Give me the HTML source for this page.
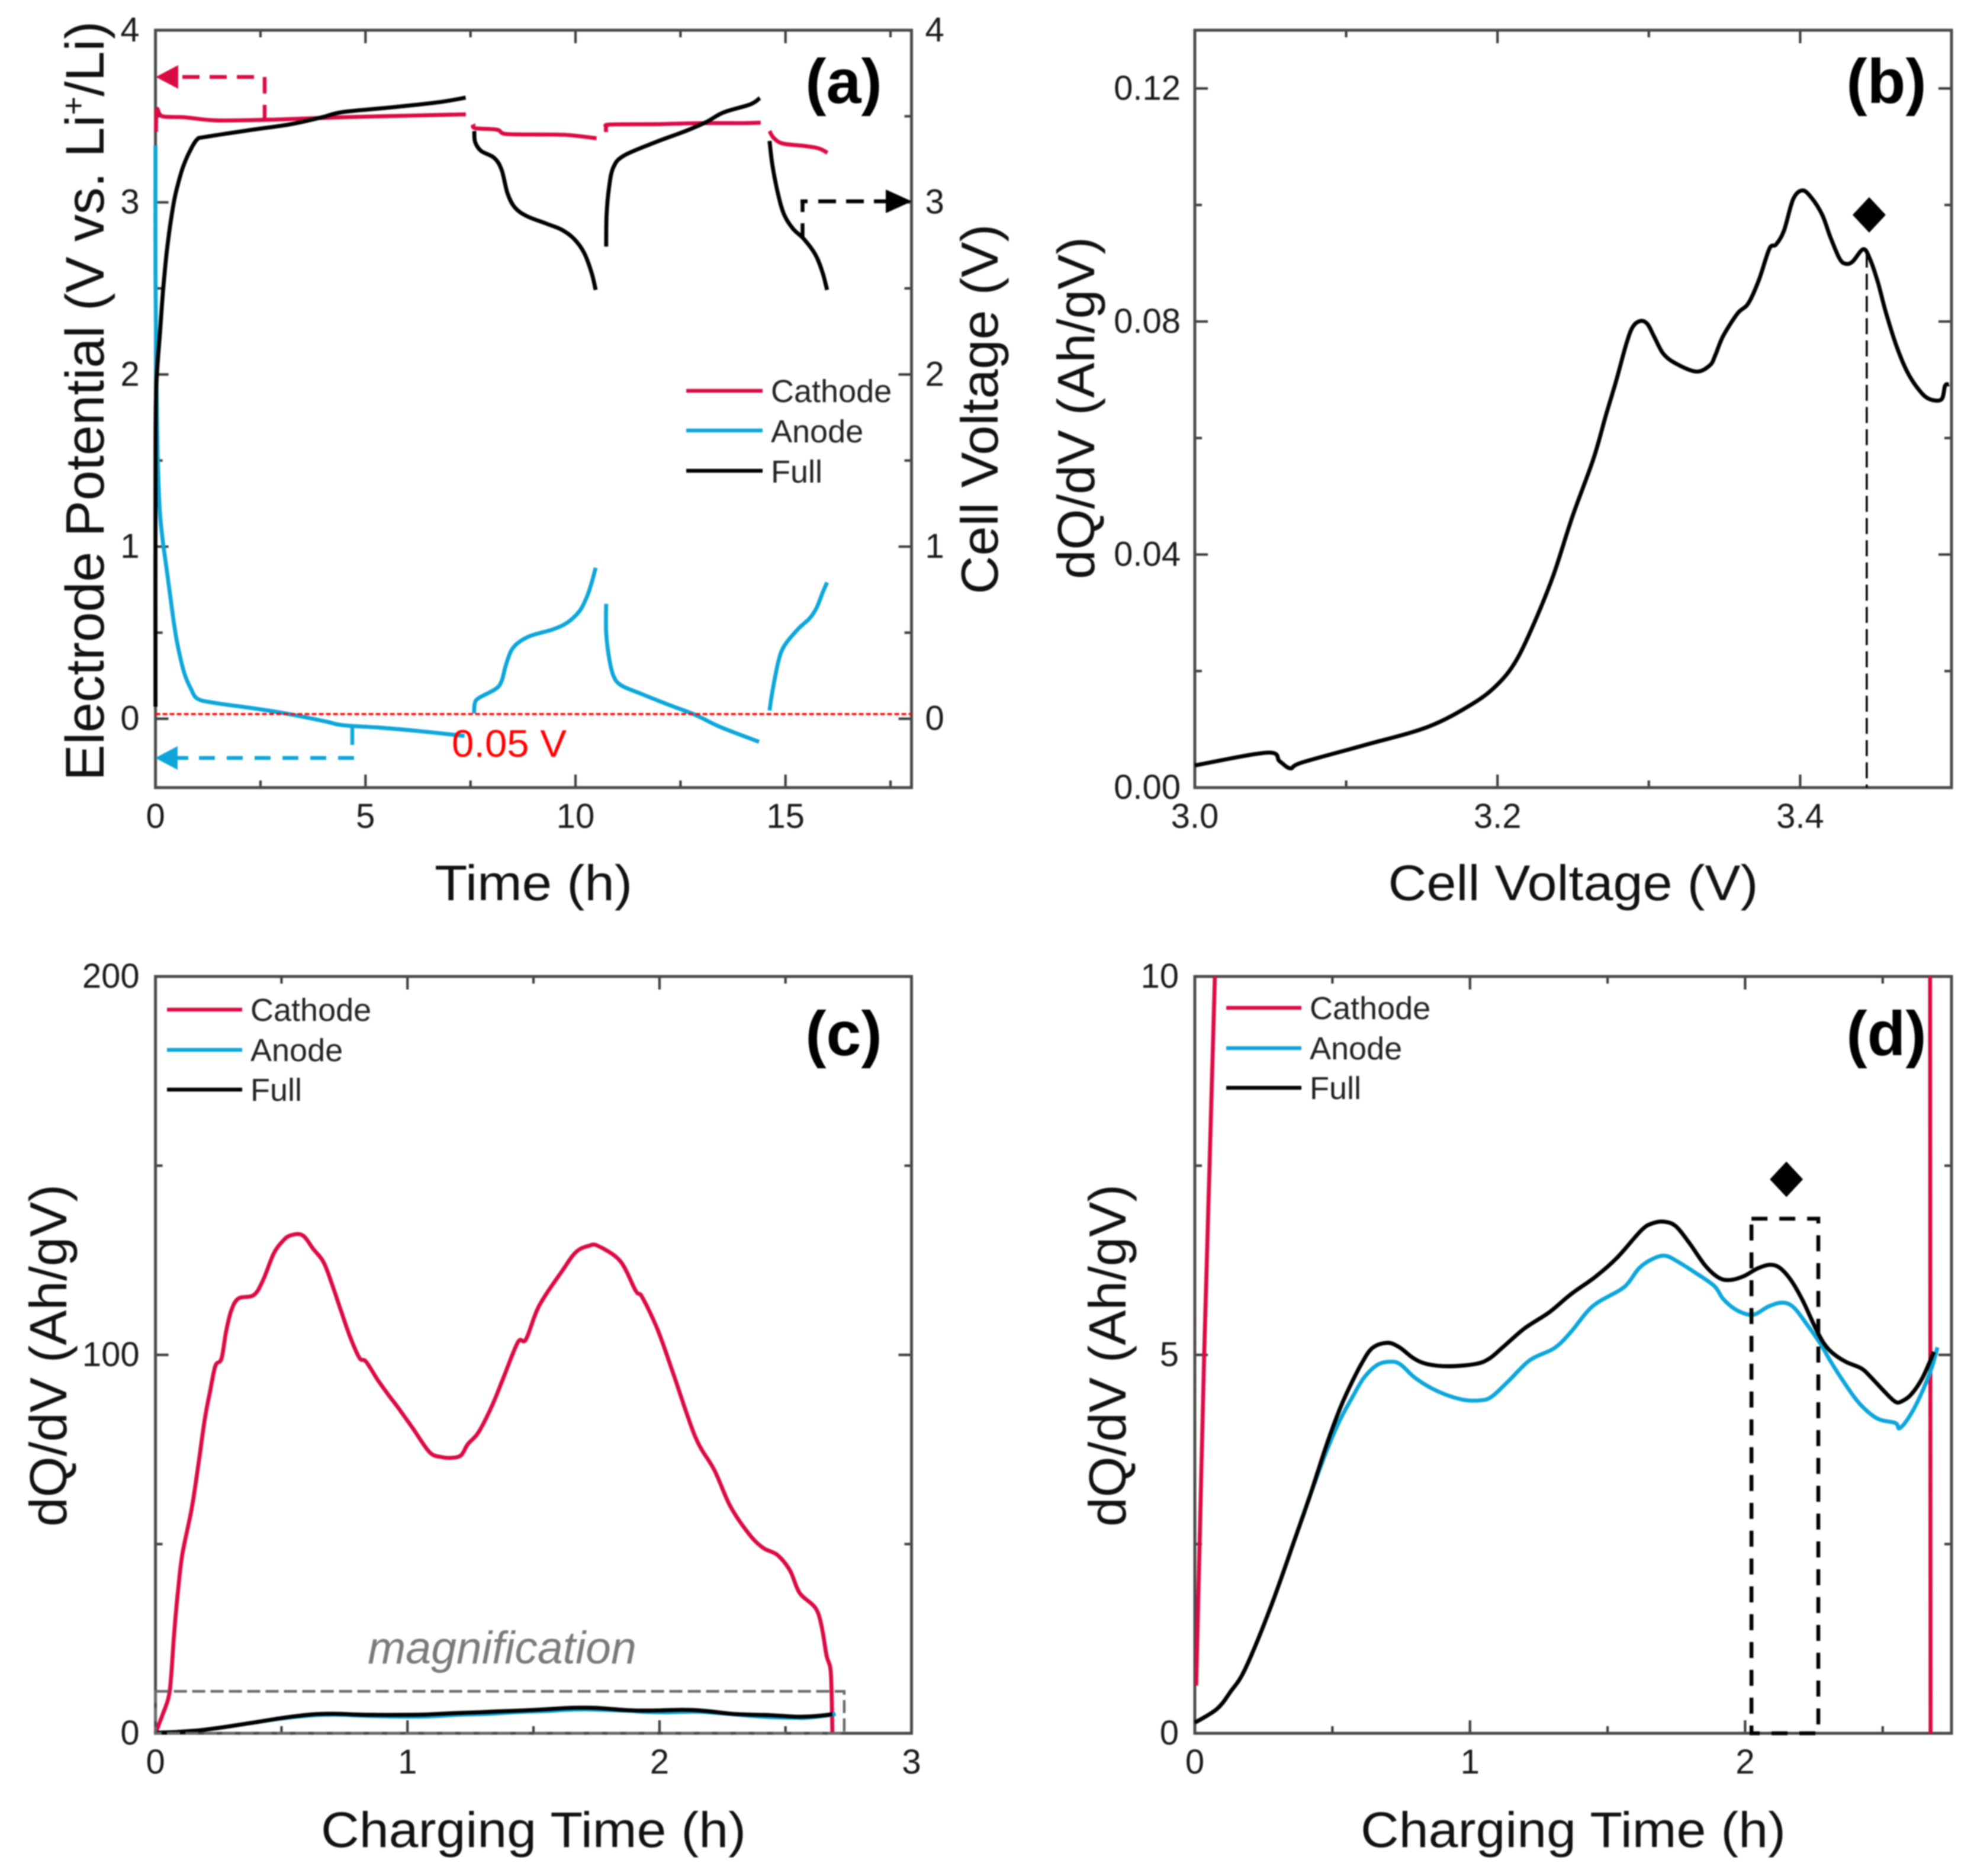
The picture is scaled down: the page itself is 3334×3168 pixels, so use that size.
<!DOCTYPE html>
<html lang="en">
<head>
<meta charset="utf-8">
<title>Electrode potential and dQ/dV charts</title>
<style>
html,body{margin:0;padding:0;background:#fff;}
svg{display:block;filter:blur(1.1px);}
text{font-family:"Liberation Sans",sans-serif;fill:#1a1a1a;}
.title{font-size:84px;fill:#111;}
.ytitle{font-size:88px;fill:#111;}
.leg{font-size:54px;fill:#222;}
.tag{font-size:106px;font-weight:bold;fill:#000;}
</style>
</head>
<body>
<svg id="figure" xmlns="http://www.w3.org/2000/svg" width="3334" height="3168" viewBox="0 0 3334 3168">
  <rect x="0" y="0" width="3334" height="3168" fill="#fff"/>
  <defs>
    <clipPath id="clip-d"><rect x="2018" y="1649" width="1278" height="1278"/></clipPath>
  </defs>
  <g id="panel-a"></g>
  <g id="panel-b"></g>
  <g id="panel-c"></g>
  <g id="panel-d" ></g>

  <!-- panel a text -->
  <text class="title" x="901" y="1520" text-anchor="middle" textLength="334" lengthAdjust="spacingAndGlyphs">Time (h)</text>
  <text class="ytitle" style="font-size:91.5px" transform="translate(175,677) rotate(-90)" text-anchor="middle">Electrode Potential (V vs. Li<tspan font-size="54" dy="-33">+</tspan><tspan dy="33">/Li)</tspan></text>
  <text class="ytitle" transform="translate(1685,691) rotate(-90)" text-anchor="middle" textLength="625" lengthAdjust="spacingAndGlyphs">Cell Voltage (V)</text>
  <text class="tag" x="1425" y="174" text-anchor="middle">(a)</text>
  <text x="763" y="1278" font-size="65" textLength="194" lengthAdjust="spacingAndGlyphs" style="fill:#ff0000">0.05 V</text>
  <g>
    <line x1="1159" y1="660" x2="1288" y2="660" stroke="#d90b45" stroke-width="6.5"/>
    <line x1="1159" y1="727" x2="1288" y2="727" stroke="#0ea6d9" stroke-width="6.5"/>
    <line x1="1159" y1="795" x2="1288" y2="795" stroke="#000" stroke-width="6.5"/>
    <text class="leg" x="1302" y="679">Cathode</text>
    <text class="leg" x="1302" y="747">Anode</text>
    <text class="leg" x="1302" y="815">Full</text>
  </g>
  <!-- panel a guide arrows -->
  <g fill="none" stroke="#d90b45" stroke-width="6.5">
    <line x1="308" y1="130" x2="430" y2="130" stroke-dasharray="29 17"/>
    <line x1="447" y1="130" x2="447" y2="204" stroke-dasharray="28 19"/>
    <polygon points="263,130 301,110 301,150" fill="#d90b45" stroke="none"/>
  </g>
  <g fill="none" stroke="#0ea6d9" stroke-width="6.5">
    <line x1="300" y1="1280" x2="318" y2="1280"/>
    <line x1="336" y1="1280" x2="598" y2="1280" stroke-dasharray="27 20"/>
    <line x1="595" y1="1228" x2="595" y2="1258"/>
    <polygon points="262,1280 300,1260 300,1300" fill="#0ea6d9" stroke="none"/>
  </g>
  <g fill="none" stroke="#000" stroke-width="6.5">
    <line x1="1352" y1="340" x2="1364" y2="340"/>
    <line x1="1382" y1="340" x2="1500" y2="340" stroke-dasharray="30 17"/>
    <line x1="1355.5" y1="337" x2="1355.5" y2="358"/>
    <line x1="1355.5" y1="377" x2="1355.5" y2="400"/>
    <polygon points="1540,340 1496,320 1496,360" fill="#000" stroke="none"/>
  </g>

  <!-- panel b text -->
  <text class="title" x="2657" y="1520" text-anchor="middle" textLength="625" lengthAdjust="spacingAndGlyphs">Cell Voltage (V)</text>
  <text class="ytitle" transform="translate(1848,689) rotate(-90)" text-anchor="middle" textLength="578" lengthAdjust="spacingAndGlyphs">dQ/dV (Ah/gV)</text>
  <text class="tag" x="3186" y="174" text-anchor="middle">(b)</text>

  <!-- panel c text -->
  <text class="title" x="901" y="3119" text-anchor="middle" textLength="718" lengthAdjust="spacingAndGlyphs">Charging Time (h)</text>
  <text class="ytitle" transform="translate(112,2289) rotate(-90)" text-anchor="middle" textLength="578" lengthAdjust="spacingAndGlyphs">dQ/dV (Ah/gV)</text>
  <text class="tag" x="1425" y="1782" text-anchor="middle">(c)</text>
  <text x="848" y="2809" text-anchor="middle" font-size="77" font-style="italic" style="fill:#7a7a7a">magnification</text>
  <g>
    <line x1="282" y1="1705" x2="409" y2="1705" stroke="#d90b45" stroke-width="6.5"/>
    <line x1="282" y1="1773" x2="409" y2="1773" stroke="#0ea6d9" stroke-width="6.5"/>
    <line x1="282" y1="1840" x2="409" y2="1840" stroke="#000" stroke-width="6.5"/>
    <text class="leg" x="423" y="1724">Cathode</text>
    <text class="leg" x="423" y="1792">Anode</text>
    <text class="leg" x="423" y="1859">Full</text>
  </g>

  <!-- panel d text -->
  <text class="title" x="2657" y="3119" text-anchor="middle" textLength="718" lengthAdjust="spacingAndGlyphs">Charging Time (h)</text>
  <text class="ytitle" transform="translate(1901,2289) rotate(-90)" text-anchor="middle" textLength="578" lengthAdjust="spacingAndGlyphs">dQ/dV (Ah/gV)</text>
  <text class="tag" x="3186" y="1782" text-anchor="middle">(d)</text>
  <g id="d-legend">
    <line x1="2071" y1="1702" x2="2198" y2="1702" stroke="#d90b45" stroke-width="6.5"/>
    <line x1="2071" y1="1770" x2="2198" y2="1770" stroke="#0ea6d9" stroke-width="6.5"/>
    <line x1="2071" y1="1837" x2="2198" y2="1837" stroke="#000" stroke-width="6.5"/>
    <text class="leg" x="2212" y="1721">Cathode</text>
    <text class="leg" x="2212" y="1789">Anode</text>
    <text class="leg" x="2212" y="1856">Full</text>
  </g>
</svg>

<script>
/* ---------- Panel (a) series ---------- */
const aCathode1Time = [0.01,0.035,0.16,0.69,1.45,2.71,3.72,4.72,7.39];
const aCathode1Volt = [3.41,3.54,3.50,3.494,3.476,3.48,3.488,3.496,3.511];
const aCathode2Time = [7.57,7.61,8.13,8.34,9.11,9.81,10.5];
const aCathode2Volt = [3.454,3.431,3.422,3.397,3.394,3.391,3.372];
const aCathode3Time = [10.73,10.73,10.83,11.92,12.97,14.02,14.41];
const aCathode3Volt = [3.408,3.437,3.452,3.454,3.46,3.46,3.463];
const aCathode4Time = [14.62,14.72,14.93,15.43,15.78,16.0];
const aCathode4Volt = [3.414,3.374,3.342,3.328,3.314,3.288];

const aAnode1Time = [0,0,0.02,0.05,0.1,0.17,0.248,0.342,0.437,0.531,0.688,0.846,1.0,1.38,2.2,2.83,3.46,4.09,4.46,5.35,6.29,7.36];
const aAnode1Volt = [3.33,2.6,2.0,1.55,1.22,1.04,0.9,0.73,0.56,0.423,0.264,0.173,0.116,0.093,0.065,0.042,0.014,-0.018,-0.0375,-0.052,-0.072,-0.1];
const aAnode2Time = [7.585,7.606,7.71,8.10,8.24,8.34,8.48,8.69,8.97,9.46,9.81,10.1,10.27,10.38,10.48];
const aAnode2Volt = [0.031,0.093,0.122,0.173,0.218,0.309,0.4,0.451,0.485,0.519,0.559,0.627,0.707,0.786,0.877];
const aAnode3Time = [10.73,10.73,10.8,10.9,11.08,11.57,12.27,12.83,13.46,14.37];
const aAnode3Volt = [0.667,0.502,0.355,0.252,0.195,0.144,0.076,0.025,-0.049,-0.134];
const aAnode4Time = [14.62,14.69,14.83,14.97,15.29,15.57,15.74,15.88,15.99];
const aAnode4Volt = [0.048,0.161,0.332,0.423,0.519,0.582,0.644,0.73,0.792];

const aFull1Time = [0,0,0.015,0.11,0.185,0.286,0.437,0.563,0.663,0.814,0.99,1.19,2.2,3.2,3.96,4.47,5.72,6.73,7.385];
const aFull1Volt = [0.07,1.3,1.9,2.25,2.5,2.75,3.0,3.13,3.21,3.295,3.365,3.38,3.418,3.453,3.494,3.525,3.554,3.581,3.608];
const aFull2Time = [7.59,7.61,7.75,8.06,8.24,8.38,8.55,8.83,9.32,9.67,9.96,10.2,10.38,10.48];
const aFull2Volt = [3.414,3.351,3.299,3.259,3.19,3.053,2.972,2.921,2.875,2.841,2.789,2.709,2.594,2.491];
const aFull3Time = [10.73,10.74,10.8,10.9,11.15,11.92,12.62,13.11,13.53,14.16,14.39];
const aFull3Volt = [2.743,2.927,3.087,3.202,3.271,3.351,3.414,3.466,3.523,3.569,3.606];
const aFull4Time = [14.62,14.69,14.83,14.97,15.18,15.43,15.71,15.88,15.99];
const aFull4Volt = [3.357,3.213,3.041,2.927,2.846,2.789,2.697,2.594,2.491];

const aCutoffLevel = [0.027];

const aXMajor = [0,5,10,15];
const aXMajorLabels = ['0','5','10','15'];
const aXMinor = [2.5,7.5,12.5,17.5];
const aYMajor = [0,1,2,3,4];
const aYMajorLabels = ['0','1','2','3','4'];
const aYMinor = [0.5,1.5,2.5,3.5];

/* ---------- Panel (b) series ---------- */
const bVoltage = [3.0,3.0478,3.0561,3.0632,3.0707,3.1123,3.1538,3.183,3.1996,3.2121,3.2245,3.237,3.2495,3.2635,3.2714,3.2784,3.2853,3.2897,3.295,3.2993,3.3037,3.3098,3.3185,3.3316,3.3404,3.3439,3.3491,3.3587,3.3657,3.3727,3.3797,3.384,3.3893,3.3954,3.4015,3.4076,3.4146,3.4198,3.426,3.4303,3.4347,3.4417,3.446,3.4513,3.4565,3.4635,3.4705,3.4775,3.4845,3.4932,3.4958,3.4984];
const bDqdv = [0.0038,0.006,0.0045,0.0033,0.0043,0.0073,0.0104,0.0143,0.0176,0.0217,0.0284,0.0365,0.0465,0.0565,0.0637,0.0698,0.0763,0.0792,0.0801,0.0795,0.0773,0.0744,0.0727,0.0714,0.0725,0.0742,0.0775,0.0814,0.0831,0.0871,0.0925,0.0932,0.0956,0.101,0.1025,0.1012,0.0983,0.0946,0.0908,0.0899,0.0903,0.0924,0.0908,0.0868,0.0817,0.0759,0.0715,0.0686,0.0668,0.0666,0.069,0.0692];
const bPeakVoltage = [3.444];
const bPeakValue = [0.092];
const bMarkerVoltage = [3.4456];
const bMarkerValue = [0.0983];

const bXMajor = [3.0,3.2,3.4];
const bXMajorLabels = ['3.0','3.2','3.4'];
const bXMinor = [3.1,3.3];
const bYMajor = [0,0.04,0.08,0.12];
const bYMajorLabels = ['0.00','0.04','0.08','0.12'];
const bYMinor = [0.02,0.06,0.10];

/* ---------- Panels (c) and (d) series ---------- */
const chargeCathodeTime = [0,0.027,0.052,0.062,0.075,0.09,0.107,0.1435,0.1697,0.1959,0.2169,0.2378,0.262,0.2798,0.3008,0.3291,0.3899,0.4266,0.4686,0.5053,0.5367,0.5839,0.6259,0.6678,0.7045,0.736,0.7727,0.8094,0.8356,0.8828,0.9248,0.9667,1.0191,1.0873,1.1345,1.1765,1.2132,1.2394,1.2814,1.3338,1.381,1.4386,1.4701,1.5226,1.6149,1.669,1.7187,1.756,1.844,1.906,1.931,1.993,2.056,2.143,2.218,2.281,2.356,2.411,2.468,2.518,2.556,2.618,2.643,2.663,2.68,2.686];
const chargeCathodeValue = [0,4.7,9.5,15,27,38,47.4,59.3,70.7,83.1,90.4,97.1,99,106,111.7,114.9,115.8,119.7,126.7,130.1,131.6,131.6,128,124.4,117.9,111.7,104.7,99.2,98.2,93.3,89.4,85.7,80.8,74.3,73,72.8,73.5,76.4,79.5,86.3,94,103.4,104.1,113,122.3,127.2,128.8,128.8,124.8,116.9,115.3,106.6,94.8,78.2,69.5,60,52.6,49,47.1,43,37.1,33.2,28.4,20.5,15.8,0];

const chargeAnodeTime = [0,0.08,0.13,0.183,0.274,0.363,0.4176,0.4769,0.5263,0.5757,0.6152,0.6646,0.714,0.7486,0.8029,0.882,0.971,1.04,1.0797,1.139,1.218,1.3069,1.3662,1.445,1.542,1.575,1.616,1.665,1.71,1.756,1.813,1.888,1.92,1.97,2.028,2.085,2.135,2.176,2.225,2.275,2.308,2.357,2.415,2.48,2.546,2.561,2.596,2.637,2.678,2.699];
const chargeAnodeValue = [0.14,0.32,0.55,0.85,1.65,2.56,3.13,3.71,4.13,4.46,4.7,4.87,4.91,4.87,4.69,4.52,4.41,4.4,4.45,4.65,4.93,5.09,5.3,5.64,5.85,5.95,6.15,6.27,6.31,6.23,6.1,5.91,5.74,5.59,5.53,5.64,5.69,5.63,5.4,5.14,4.93,4.65,4.36,4.16,4.1,4.03,4.18,4.46,4.83,5.1];

const chargeFullTime = [0,0.08,0.13,0.183,0.274,0.363,0.4176,0.4769,0.5263,0.5658,0.6053,0.6449,0.6992,0.7437,0.7931,0.8425,0.9215,1.0204,1.0698,1.1192,1.1982,1.2871,1.3662,1.4551,1.5335,1.624,1.665,1.706,1.748,1.797,1.855,1.904,1.945,1.995,2.044,2.089,2.126,2.168,2.209,2.25,2.283,2.316,2.365,2.423,2.456,2.505,2.546,2.571,2.604,2.645,2.686];
const chargeFullValue = [0.14,0.32,0.55,0.85,1.65,2.56,3.13,3.79,4.28,4.6,4.88,5.09,5.16,5.1,4.96,4.88,4.85,4.88,4.95,5.1,5.35,5.56,5.8,6.03,6.28,6.65,6.74,6.76,6.7,6.48,6.18,6.02,5.99,6.04,6.14,6.19,6.15,5.98,5.72,5.4,5.17,5.03,4.91,4.82,4.71,4.52,4.38,4.39,4.48,4.7,5.04];

const dCathodeRiseTime = [0.005,0.034,0.073];
const dCathodeRiseValue = [0.63,5,10];
const dCathodeFallTime = [2.672,2.674];
const dCathodeFallValue = [10,0];

const cZoomBoxTime = [0,2.733];
const cZoomBoxValue = [0,11.1];
const dBoxTime = [2.023,2.266];
const dBoxValue = [0,6.8];
const dMarkerTime = [2.15];
const dMarkerValue = [7.32];

const cXMajor = [0,1,2,3];
const cXMajorLabels = ['0','1','2','3'];
const cXMinor = [0.5,1.5,2.5];
const cYMajor = [0,100,200];
const cYMajorLabels = ['0','100','200'];
const cYMinor = [50,150];

const dXMajor = [0,1,2];
const dXMajorLabels = ['0','1','2'];
const dXMinor = [0.5,1.5,2.5];
const dYMajor = [0,5,10];
const dYMajorLabels = ['0','5','10'];
const dYMinor = [2.5,7.5];

/* ---------- Drawing helpers ---------- */
const SVGNS = 'http://www.w3.org/2000/svg';
const CRIMSON = '#d90b45';
const CYAN = '#0ea6d9';
const BLACK = '#000000';

function linear(d0, d1, r0, r1) {
  return function (v) { return r0 + (v - d0) * (r1 - r0) / (d1 - d0); };
}

function smoothPath(pts) {
  let d = 'M' + pts[0][0].toFixed(1) + ' ' + pts[0][1].toFixed(1);
  for (let i = 0; i < pts.length - 1; i++) {
    const p0 = pts[Math.max(i - 1, 0)], p1 = pts[i], p2 = pts[i + 1], p3 = pts[Math.min(i + 2, pts.length - 1)];
    const k = 1 / 6;
    const c1x = p1[0] + (p2[0] - p0[0]) * k, c1y = p1[1] + (p2[1] - p0[1]) * k;
    const c2x = p2[0] - (p3[0] - p1[0]) * k, c2y = p2[1] - (p3[1] - p1[1]) * k;
    d += 'C' + c1x.toFixed(1) + ' ' + c1y.toFixed(1) + ' ' + c2x.toFixed(1) + ' ' + c2y.toFixed(1) + ' ' + p2[0].toFixed(1) + ' ' + p2[1].toFixed(1);
  }
  return d;
}

function straightPath(pts) {
  return pts.map(function (p, i) { return (i ? 'L' : 'M') + p[0].toFixed(1) + ' ' + p[1].toFixed(1); }).join('');
}

function drawSeries(g, xs, ys, sx, sy, color, name, smooth, clip) {
  const pts = xs.map(function (x, i) { return [sx(x), sy(ys[i])]; });
  const el = document.createElementNS(SVGNS, 'path');
  
  
  el.setAttribute('d', smooth ? smoothPath(pts) : straightPath(pts));
  el.setAttribute('fill', 'none');
  el.setAttribute('stroke', color);
  el.setAttribute('stroke-width', '6.8');
  el.setAttribute('stroke-linejoin', 'round');
  if (clip) el.setAttribute('clip-path', clip);
  g.appendChild(el);
}

function drawTick(g, x1, y1, x2, y2, name) {
  const el = document.createElementNS(SVGNS, 'line');
  
  
  el.setAttribute('x1', x1);
  el.setAttribute('y1', y1);
  el.setAttribute('x2', x2);
  el.setAttribute('y2', y2);
  el.setAttribute('stroke', '#3d3d3d');
  el.setAttribute('stroke-width', '4.2');
  g.appendChild(el);
}

function drawLabel(g, x, y, str, anchor, name) {
  const el = document.createElementNS(SVGNS, 'text');
  
  
  el.setAttribute('x', x);
  el.setAttribute('y', y);
  el.setAttribute('text-anchor', anchor);
  el.setAttribute('font-size', '58');
  el.textContent = str;
  g.appendChild(el);
}

function drawAxes(g, box, sx, sy, cfg) {
  const MAJOR = 22, MINOR = 12;
  cfg.xMajor.forEach(function (v, i) {
    const x = sx(v);
    drawTick(g, x, box.y1, x, box.y1 - MAJOR, 'x-major-tick');
    drawTick(g, x, box.y0, x, box.y0 + MAJOR, 'x-major-tick-top');
    drawLabel(g, x, box.y1 + 68, cfg.xLabels[i], 'middle', 'x-tick-label');
  });
  cfg.xMinor.forEach(function (v) {
    const x = sx(v);
    drawTick(g, x, box.y1, x, box.y1 - MINOR, 'x-minor-tick');
    drawTick(g, x, box.y0, x, box.y0 + MINOR, 'x-minor-tick-top');
  });
  cfg.yMajor.forEach(function (v, i) {
    const y = sy(v);
    drawTick(g, box.x0, y, box.x0 + MAJOR, y, 'y-major-tick');
    drawTick(g, box.x1, y, box.x1 - MAJOR, y, 'y-major-tick-right');
    drawLabel(g, box.x0 - cfg.labelGap, y + 19, cfg.yLabels[i], 'end', 'y-tick-label');
    if (cfg.rightLabels) {
      drawLabel(g, box.x1 + 23, y + 19, cfg.yLabels[i], 'start', 'right-y-tick-label');
    }
  });
  cfg.yMinor.forEach(function (v) {
    const y = sy(v);
    drawTick(g, box.x0, y, box.x0 + MINOR, y, 'y-minor-tick');
    drawTick(g, box.x1, y, box.x1 - MINOR, y, 'y-minor-tick-right');
  });
  const frame = document.createElementNS(SVGNS, 'rect');
  
  
  frame.setAttribute('x', box.x0);
  frame.setAttribute('y', box.y0);
  frame.setAttribute('width', box.x1 - box.x0);
  frame.setAttribute('height', box.y1 - box.y0);
  frame.setAttribute('fill', 'none');
  frame.setAttribute('stroke', '#4a4a4a');
  frame.setAttribute('stroke-width', '5');
  g.appendChild(frame);
}

function drawDiamond(g, cx, cy, name) {
  const el = document.createElementNS(SVGNS, 'polygon');
  
  
  el.setAttribute('points', cx + ',' + (cy - 30) + ' ' + (cx + 28) + ',' + cy + ' ' + cx + ',' + (cy + 30) + ' ' + (cx - 28) + ',' + cy);
  el.setAttribute('fill', '#000');
  g.appendChild(el);
}

function drawDashedBox(g, x0, y0, x1, y1, color, width, dash, name) {
  const el = document.createElementNS(SVGNS, 'rect');
  
  
  el.setAttribute('x', x0);
  el.setAttribute('y', y1);
  el.setAttribute('width', x1 - x0);
  el.setAttribute('height', y0 - y1);
  el.setAttribute('fill', 'none');
  el.setAttribute('stroke', color);
  el.setAttribute('stroke-width', width);
  el.setAttribute('stroke-dasharray', dash);
  g.appendChild(el);
}

function drawGuideLine(g, x1, y1, x2, y2, color, width, dash, name) {
  const el = document.createElementNS(SVGNS, 'line');
  
  
  el.setAttribute('x1', x1);
  el.setAttribute('y1', y1);
  el.setAttribute('x2', x2);
  el.setAttribute('y2', y2);
  el.setAttribute('stroke', color);
  el.setAttribute('stroke-width', width);
  el.setAttribute('stroke-dasharray', dash);
  g.appendChild(el);
}

/* ---------- Panel (a) ---------- */
(function () {
  const g = document.getElementById('panel-a');
  const box = { x0: 262.6, x1: 1539.5, y0: 51, y1: 1330 };
  const sx = linear(0, 18, box.x0, box.x1);
  const sy = linear(-0.4, 4, box.y1, box.y0);
  drawAxes(g, box, sx, sy, { xMajor: aXMajor, xLabels: aXMajorLabels, xMinor: aXMinor, yMajor: aYMajor, yLabels: aYMajorLabels, yMinor: aYMinor, labelGap: 27, rightLabels: true });
  drawSeries(g, aCathode1Time, aCathode1Volt, sx, sy, CRIMSON, 'cathode-line-charge-1', true);
  drawSeries(g, aCathode2Time, aCathode2Volt, sx, sy, CRIMSON, 'cathode-line-discharge-1', true);
  drawSeries(g, aCathode3Time, aCathode3Volt, sx, sy, CRIMSON, 'cathode-line-charge-2', true);
  drawSeries(g, aCathode4Time, aCathode4Volt, sx, sy, CRIMSON, 'cathode-line-discharge-2', true);
  drawSeries(g, aAnode1Time, aAnode1Volt, sx, sy, CYAN, 'anode-line-charge-1', true);
  drawSeries(g, aAnode2Time, aAnode2Volt, sx, sy, CYAN, 'anode-line-discharge-1', true);
  drawSeries(g, aAnode3Time, aAnode3Volt, sx, sy, CYAN, 'anode-line-charge-2', true);
  drawSeries(g, aAnode4Time, aAnode4Volt, sx, sy, CYAN, 'anode-line-discharge-2', true);
  drawSeries(g, aFull1Time, aFull1Volt, sx, sy, BLACK, 'full-cell-line-charge-1', true);
  drawSeries(g, aFull2Time, aFull2Volt, sx, sy, BLACK, 'full-cell-line-discharge-1', true);
  drawSeries(g, aFull3Time, aFull3Volt, sx, sy, BLACK, 'full-cell-line-charge-2', true);
  drawSeries(g, aFull4Time, aFull4Volt, sx, sy, BLACK, 'full-cell-line-discharge-2', true);
  drawGuideLine(g, box.x0, sy(aCutoffLevel[0]), box.x1, sy(aCutoffLevel[0]), '#ff0000', 3.5, '8 4', 'cutoff-voltage-line');
})();

/* ---------- Panel (b) ---------- */
(function () {
  const g = document.getElementById('panel-b');
  const box = { x0: 2018, x1: 3296, y0: 51, y1: 1330 };
  const sx = linear(3.0, 3.5, box.x0, box.x1);
  const sy = linear(0, 0.13, box.y1, box.y0);
  drawAxes(g, box, sx, sy, { xMajor: bXMajor, xLabels: bXMajorLabels, xMinor: bXMinor, yMajor: bYMajor, yLabels: bYMajorLabels, yMinor: bYMinor, labelGap: 24, rightLabels: false });
  drawSeries(g, bVoltage, bDqdv, sx, sy, BLACK, 'full-cell-dqdv-line', true);
  drawGuideLine(g, sx(bPeakVoltage[0]), sy(bPeakValue[0]), sx(bPeakVoltage[0]), box.y1, '#000', 3.5, '27 10.5', 'peak-guide-line');
  drawDiamond(g, sx(bMarkerVoltage[0]), sy(bMarkerValue[0]), 'peak-diamond-marker');
})();

/* ---------- Panel (c) ---------- */
(function () {
  const g = document.getElementById('panel-c');
  const box = { x0: 262.6, x1: 1539.5, y0: 1649, y1: 2927 };
  const sx = linear(0, 3, box.x0, box.x1);
  const sy = linear(0, 200, box.y1, box.y0);
  drawAxes(g, box, sx, sy, { xMajor: cXMajor, xLabels: cXMajorLabels, xMinor: cXMinor, yMajor: cYMajor, yLabels: cYMajorLabels, yMinor: cYMinor, labelGap: 27, rightLabels: false });
  drawSeries(g, chargeCathodeTime, chargeCathodeValue, sx, sy, CRIMSON, 'cathode-dqdv-line', true);
  drawSeries(g, chargeAnodeTime, chargeAnodeValue, sx, sy, CYAN, 'anode-dqdv-line', true);
  drawSeries(g, chargeFullTime, chargeFullValue, sx, sy, BLACK, 'full-cell-dqdv-line', true);
  drawDashedBox(g, sx(cZoomBoxTime[0]), sy(cZoomBoxValue[0]), sx(cZoomBoxTime[1]), sy(cZoomBoxValue[1]), '#6a6a6a', 4.5, '22 9', 'magnification-box');
})();

/* ---------- Panel (d) ---------- */
(function () {
  const g = document.getElementById('panel-d');
  const box = { x0: 2018, x1: 3296, y0: 1649, y1: 2927 };
  const sx = linear(0, 2.75, box.x0, box.x1);
  const sy = linear(0, 10, box.y1, box.y0);
  drawAxes(g, box, sx, sy, { xMajor: dXMajor, xLabels: dXMajorLabels, xMinor: dXMinor, yMajor: dYMajor, yLabels: dYMajorLabels, yMinor: dYMinor, labelGap: 27, rightLabels: false });
  drawSeries(g, dCathodeRiseTime, dCathodeRiseValue, sx, sy, CRIMSON, 'cathode-rising-line', false, 'url(#clip-d)');
  drawSeries(g, dCathodeFallTime, dCathodeFallValue, sx, sy, CRIMSON, 'cathode-falling-line', false, 'url(#clip-d)');
  drawSeries(g, chargeAnodeTime, chargeAnodeValue, sx, sy, CYAN, 'anode-dqdv-line', true);
  drawSeries(g, chargeFullTime, chargeFullValue, sx, sy, BLACK, 'full-cell-dqdv-line', true);
  drawDashedBox(g, sx(dBoxTime[0]), sy(dBoxValue[0]), sx(dBoxTime[1]), sy(dBoxValue[1]), '#000', 6.5, '27 20', 'peak-highlight-box');
  drawDiamond(g, sx(dMarkerTime[0]), sy(dMarkerValue[0]), 'peak-diamond-marker');
})();
</script>
</body>
</html>
